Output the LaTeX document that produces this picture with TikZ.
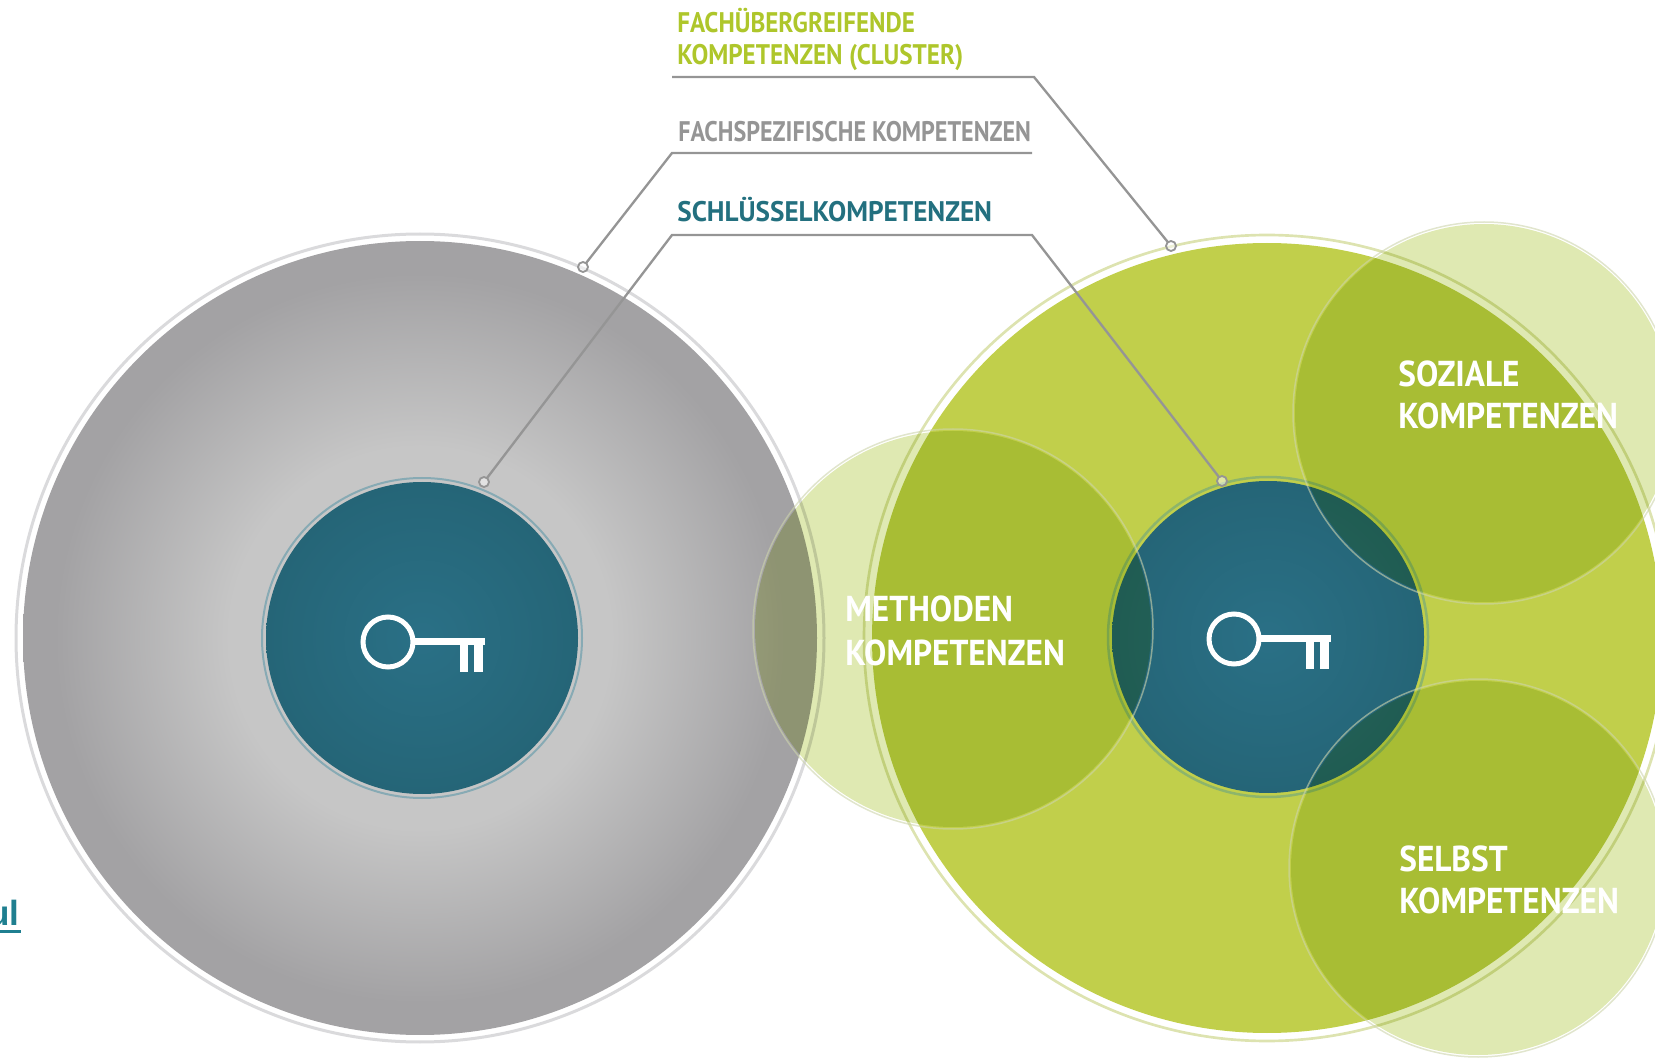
\documentclass[tikz,border=0pt]{standalone}
\usepackage{graphicx}
\usepackage{fontspec}
\setmainfont{PT Sans}
\newfontfamily\linkfont{Liberation Sans}
\definecolor{disctop}{HTML}{C1CF4B}
\definecolor{discring}{HTML}{DDE3B0}
\definecolor{blobfill}{HTML}{DFE9B2}
\definecolor{blobring}{HTML}{CDD4AC}
\definecolor{teal1}{HTML}{2A7086}
\definecolor{teal2}{HTML}{256577}
\definecolor{tealrim}{HTML}{8DB56B}
\definecolor{grey1}{HTML}{C6C6C6}
\definecolor{grey2}{HTML}{A3A2A4}
\definecolor{greyring}{HTML}{DADADC}
\definecolor{leader}{HTML}{959595}
\definecolor{headgreen}{HTML}{AEC62B}
\definecolor{headgrey}{HTML}{959595}
\definecolor{headteal}{HTML}{23707F}
\definecolor{linkteal}{HTML}{1F7F90}
\pgfdeclareradialshading{greydisc}{\pgfpoint{0bp}{0bp}}{color(0bp)=(grey1); color(12bp)=(grey1); color(23bp)=(grey2); color(50bp)=(grey2)}
\pgfdeclareradialshading{tealdisc}{\pgfpoint{0bp}{0bp}}{color(0bp)=(teal1); color(25bp)=(teal2); color(50bp)=(teal2)}
\newcommand{\squeezed}[2]{\scalebox{#1}[1]{#2}}
\tikzset{
  disc/.style={circle,inner sep=0pt,outer sep=0pt,minimum size=#1*1.2pt},
  ring/.style={disc=#1,draw,fill=none},
  leaderline/.style={draw=leader,line width=1.4pt},
  leaderdot/.style={disc=5,draw=leader,fill=white,fill opacity=.5,line width=1.1pt},
  whitelabel/.style={anchor=base west,inner sep=0pt,text=white,font=\fontsize{21.6}{24}\selectfont\bfseries},
  headlabel/.style={anchor=base west,inner sep=0pt,font=\fontsize{17}{20}\selectfont\bfseries},
  keyicon/.pic={
    \draw[white,line width=3pt] (0,0) circle (25);
    \fill[white] (25,-4) rectangle (97,3);
    \fill[white] (72,3) rectangle (80,30);
    \fill[white] (86,3) rectangle (95,30);
  }
}
\begin{document}
\begin{tikzpicture}[x=0.6pt,y=-0.6pt]
\path[use as bounding box,clip] (0,0) rectangle (1655,1058);

\node[disc=397,shade,shading=greydisc] (fach) at (420,638) {};
\node[ring=404,draw=greyring,line width=1.8pt] (fachring) at (420,638) {};
\node[disc=395,fill=disctop] (cluster) at (1267,638) {};
\node[ring=403,draw=discring,line width=1.6pt] (clusterring) at (1267,638) {};

\node[disc=156,shade,shading=tealdisc] (keyleft) at (422,638) {};
\node[ring=160,draw=teal2!55,line width=1.2pt] (keyleftring) at (422,638) {};
\node[disc=156,shade,shading=tealdisc] (keyright) at (1268,637) {};
\node[ring=160,draw=tealrim,line width=1.5pt] (keyrightring) at (1268,637) {};

\begin{scope}[blend mode=multiply]
\node[disc=198,fill=blobfill] (methoden) at (953,629) {};
\node[disc=189,fill=blobfill] (soziale) at (1484,413) {};
\node[disc=187,fill=blobfill] (selbst) at (1478,868) {};
\end{scope}
\node[ring=200,draw=blobring,draw opacity=.6,line width=.9pt] (methodenring) at (953,629) {};
\node[ring=191,draw=blobring,draw opacity=.6,line width=.9pt] (sozialering) at (1484,413) {};
\node[ring=189,draw=blobring,draw opacity=.6,line width=.9pt] (selbstring) at (1478,868) {};

\pic at (388,642) {keyicon};
\pic at (1234,639) {keyicon};

\coordinate (clusterA) at (672,77);
\coordinate (clusterB) at (1034,77);
\coordinate (fachA) at (672,153);
\coordinate (fachB) at (1032,153);
\coordinate (schlA) at (672,235);
\coordinate (schlB) at (1032,235);
\node[leaderdot] (clusterdot) at (1171,246) {};
\node[leaderdot] (fachdot) at (583,267) {};
\node[leaderdot] (leftdot) at (484,482) {};
\node[leaderdot] (rightdot) at (1222,481) {};
\draw[leaderline] (clusterA) -- (clusterB) -- (clusterdot);
\draw[leaderline] (fachB) -- (fachA) -- (fachdot);
\draw[leaderline] (leftdot) -- (schlA) -- (schlB) -- (rightdot);

\node[headlabel,text=headgreen] (head1a) at (677,33) {\squeezed{.885}{FACHÜBERGREIFENDE}};
\node[headlabel,text=headgreen] (head1b) at (677,65) {\squeezed{.885}{KOMPETENZEN (CLUSTER)}};
\node[headlabel,text=headgrey] (head2) at (678,142) {\squeezed{.85}{FACHSPEZIFISCHE KOMPETENZEN}};
\node[headlabel,text=headteal] (head3) at (677,222) {\squeezed{.96}{SCHLÜSSELKOMPETENZEN}};

\node[whitelabel] (soz1) at (1398,387) {\squeezed{.925}{SOZIALE}};
\node[whitelabel] (soz2) at (1398,429) {\squeezed{.925}{KOMPETENZEN}};
\node[whitelabel] (met1) at (845,622) {\squeezed{.925}{METHODEN}};
\node[whitelabel] (met2) at (845,665) {\squeezed{.925}{KOMPETENZEN}};
\node[whitelabel] (sel1) at (1399,871) {\squeezed{.925}{SELBST}};
\node[whitelabel] (sel2) at (1399,913) {\squeezed{.925}{KOMPETENZEN}};

\node[anchor=base east,inner sep=0pt,text=linkteal,font=\fontsize{21}{24}\selectfont\linkfont\bfseries] (modul) at (20,925) {ul};
\coordinate (modulend) at (21,931.5);
\draw[linkteal,line width=2pt] (0,931.5) -- (modulend);
\end{tikzpicture}
\end{document}
